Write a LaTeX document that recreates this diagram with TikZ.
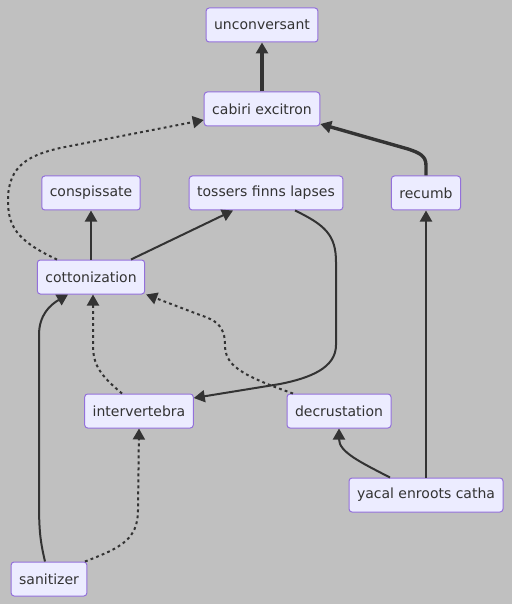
\documentclass[tikz,border=0pt]{standalone}
\usepackage{fontspec}
\setmainfont{DejaVu Sans}
\usetikzlibrary{arrows.meta,calc}

\definecolor{canvas}{HTML}{C0C0C0}
\definecolor{termfill}{HTML}{ECECFF}
\definecolor{termline}{HTML}{9370DB}
\definecolor{ink}{HTML}{333333}

\begin{document}
\begin{tikzpicture}[
    x=0.5pt, y=-0.5pt,
    term/.style={draw=termline, fill=termfill, rounded corners=1.5pt, line width=0.5pt,
                 minimum height=17pt, inner xsep=4pt, text=ink,
                 font=\fontsize{7pt}{8pt}\selectfont},
    link/.style={draw=ink, line width=1pt, -{Triangle[length=5.5pt,width=6pt]}},
    strong/.style={link, line width=1.7pt},
    weak/.style={link, dash pattern=on 1.4pt off 1.6pt},
]

% Canvas
\useasboundingbox (0,0) rectangle (512,604);
\fill[canvas] (0,0) rectangle (512,604);

% Terms
\node[term] (unc) at (262,25)  {unconversant};
\node[term] (cab) at (262,109) {cabiri excitron};
\node[term] (con) at (91,193)  {conspissate};
\node[term] (tos) at (266,193) {tossers finns lapses};
\node[term] (rec) at (426,193) {recumb};
\node[term] (cot) at (91,277)  {cottonization};
\node[term] (int) at (139,411) {intervertebra};
\node[term] (dec) at (339,411) {decrustation};
\node[term] (yac) at (426,495) {yacal enroots catha};
\node[term] (san) at (49,579)  {sanitizer};

% Strong links
\draw[strong] (cab) -- (unc);
\draw[strong] (rec.north) -- ++(0,-10) .. controls (426,156) and (420,153) .. (408,149)
    -- ($(cab.east)+(0,15)$);

% Plain links
\draw[link] (cot) -- (con);
\draw[link] ($(cot.north)+(40,0)$) -- ($(tos.south)+(-33,0)$);
\draw[link] ($(tos.south)+(29,0)$) .. controls (325,225) and (336,235) .. (336,262)
    -- (336,345) .. controls (336,368) and (310,378) .. (280,384) -- ($(int.east)+(0,-13)$);
\draw[link] ($(san.north)+(-4,0)$) .. controls (40,540) and (39,530) .. (39,500)
    -- (39,335) .. controls (39,315) and (50,305) .. ($(cot.south)+(-23,0)$);
\draw[link] ($(yac.north)+(-36,0)$) .. controls (360,462) and (339,452) .. (dec.south);
\draw[link] (yac) -- (rec);

% Weak links
\draw[weak] ($(cot.north)+(-34,0)$) .. controls (15,240) and (8,225) .. (8,200)
    .. controls (8,165) and (30,155) .. (60,148) -- ($(cab.west)+(0,11)$);
\draw[weak] ($(int.north)+(-17,0)$) .. controls (100,375) and (93,365) .. (93,345)
    -- ($(cot.south)+(2,0)$);
\draw[weak] ($(dec.north)+(-46,0)$) .. controls (240,375) and (225,365) .. (225,345)
    .. controls (225,325) and (215,320) .. (200,315) -- ($(cot.south east)+(1,0)$);
\draw[weak] ($(san.north)+(36,0)$) .. controls (120,548) and (138,540) .. (138,510)
    -- (int.south);

\end{tikzpicture}
\end{document}
